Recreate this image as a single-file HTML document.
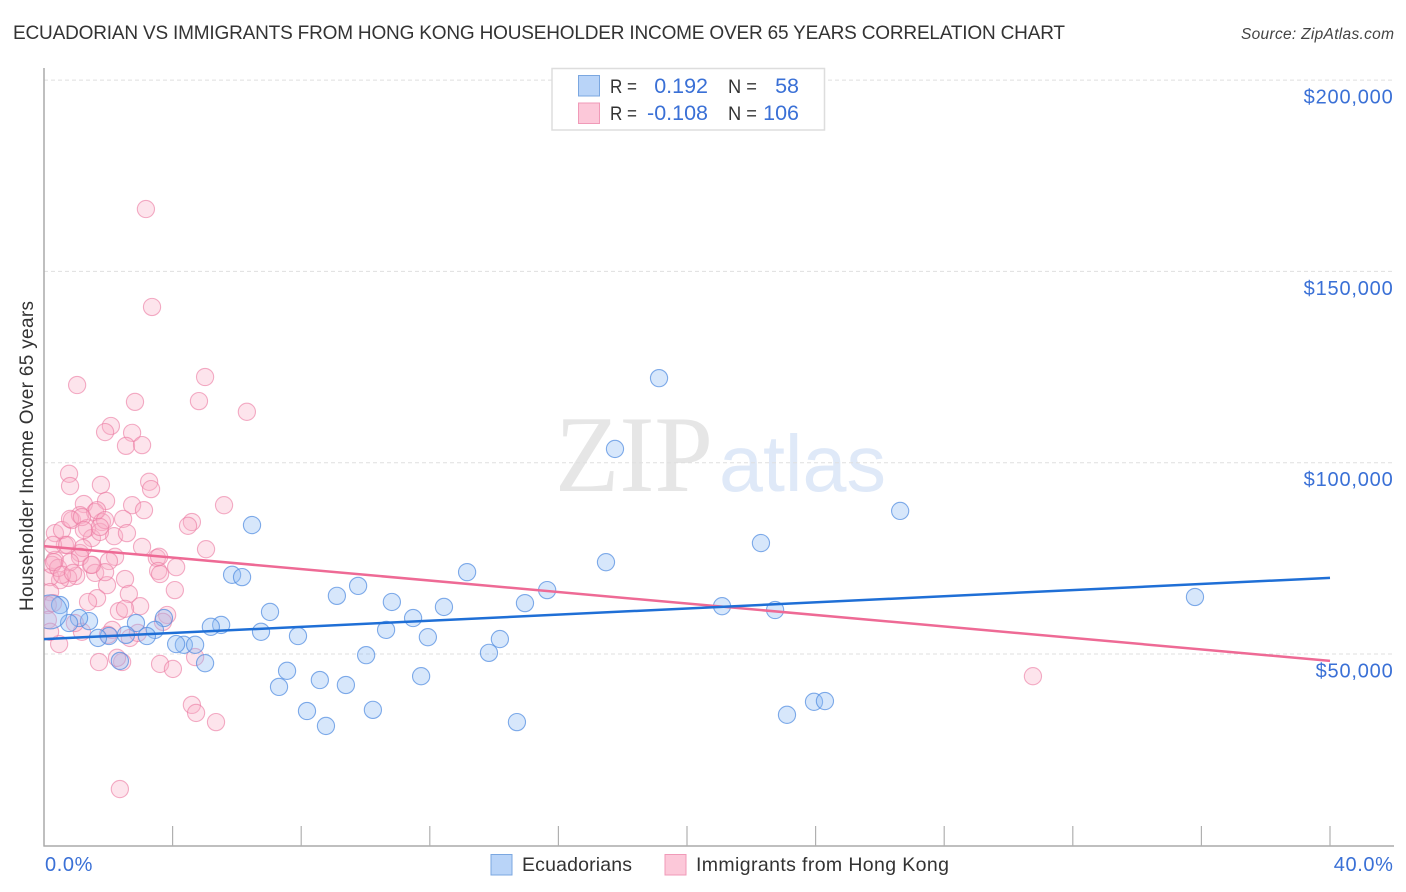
<!DOCTYPE html>
<html lang="en">
<head>
<meta charset="utf-8">
<title>Ecuadorian vs Immigrants from Hong Kong Householder Income Correlation Chart</title>
<style>
html,body{margin:0;padding:0;background:#fff;}
svg{display:block;font-family:"Liberation Sans",sans-serif;}
</style>
</head>
<body>
<svg id="chart" xmlns="http://www.w3.org/2000/svg" width="1406" height="892" viewBox="0 0 1406 892">
  <defs><clipPath id="plot-clip"><rect x="44" y="60" width="1350" height="786"/></clipPath></defs>
  <rect x="0" y="0" width="1406" height="892" fill="#ffffff"/>
  <text x="13" y="39" font-size="19" fill="#333333" textLength="1052" lengthAdjust="spacing">ECUADORIAN VS IMMIGRANTS FROM HONG KONG HOUSEHOLDER INCOME OVER 65 YEARS CORRELATION CHART</text>
  <text x="1241" y="39" font-size="15.5" font-style="italic" fill="#444444" textLength="153" lengthAdjust="spacing">Source: ZipAtlas.com</text>
  <g>
    <text x="555" y="491" font-family="'Liberation Serif',serif" font-size="109" fill="#e6e6e6" textLength="158" lengthAdjust="spacingAndGlyphs">ZIP</text>
    <text x="719" y="491" font-size="80" fill="#dfe9f8" textLength="167" lengthAdjust="spacingAndGlyphs">atlas</text>
  </g>
  <g id="grid"></g>
  <g id="axes"></g>
  <g id="pink-points" clip-path="url(#plot-clip)"></g>
  <g id="blue-points" clip-path="url(#plot-clip)"></g>
  <g id="trends"></g>
  <text transform="translate(33,456) rotate(-90)" text-anchor="middle" font-size="19" fill="#333333" textLength="310" lengthAdjust="spacing">Householder Income Over 65 years</text>
  <g>
    <rect x="552" y="68.500" width="272.500" height="61.500" fill="#ffffff" stroke="#dddddd" stroke-width="1.500"/>
    <rect x="578.500" y="75.500" width="21" height="20.500" fill="#b9d4f8" stroke="#7ba7e0" stroke-width="1"/>
    <rect x="578.500" y="103" width="21" height="20.500" fill="#fcc8d9" stroke="#f09ab8" stroke-width="1"/>
    <text x="610" y="93" font-size="19" fill="#333333" textLength="27" lengthAdjust="spacingAndGlyphs">R =</text>
    <text x="708" y="93" font-size="21.500" fill="#3a70d6" text-anchor="end">0.192</text>
    <text x="728" y="93" font-size="19" fill="#333333" textLength="29" lengthAdjust="spacingAndGlyphs">N =</text>
    <text x="799" y="93" font-size="21.500" fill="#3a70d6" text-anchor="end">58</text>
    <text x="610" y="120" font-size="19" fill="#333333" textLength="27" lengthAdjust="spacingAndGlyphs">R =</text>
    <text x="708" y="120" font-size="21.500" fill="#3a70d6" text-anchor="end">-0.108</text>
    <text x="728" y="120" font-size="19" fill="#333333" textLength="29" lengthAdjust="spacingAndGlyphs">N =</text>
    <text x="799" y="120" font-size="21.500" fill="#3a70d6" text-anchor="end">106</text>
  </g>
  <g>
    <rect x="491" y="854.500" width="21" height="20.500" fill="#b9d4f8" stroke="#7ba7e0" stroke-width="1"/>
    <text x="522" y="871" font-size="19.500" fill="#333333" textLength="110" lengthAdjust="spacing">Ecuadorians</text>
    <rect x="665" y="854.500" width="21" height="20.500" fill="#fcc8d9" stroke="#f09ab8" stroke-width="1"/>
    <text x="696" y="871" font-size="19.500" fill="#333333" textLength="253" lengthAdjust="spacing">Immigrants from Hong Kong</text>
  </g>
</svg>
<script>
const yTickValues = [200, 150, 100, 50];
const yTickLabels = ["$200,000", "$150,000", "$100,000", "$50,000"];
const xTickValues = [4, 8, 12, 16, 20, 24, 28, 32, 36, 40];
const xEndLabels = ["0.0%", "40.0%"];

const trendX = [0, 40];
const blueTrend = [53.9, 69.9];
const pinkTrend = [78.2, 48.2];

const blueX = [19.13,17.76,26.63,6.47,22.30,17.48,13.16,5.85,6.16,9.77,15.65,9.11,35.80,10.82,14.96,12.44,21.09,22.74,7.03,11.48,2.86,5.51,5.19,10.64,6.75,7.90,11.94,14.18,4.35,4.70,4.11,10.02,13.84,5.01,7.56,11.73,8.58,9.39,7.31,23.95,24.29,8.18,10.23,23.11,14.71,8.77,3.73,3.45,3.20,2.55,2.02,1.68,2.36,1.40,1.09,0.78,0.50,0.19];
const blueY = [122.1,103.6,87.4,83.7,79.0,74.0,71.4,70.7,70.1,67.8,66.7,65.2,64.9,63.6,63.3,62.3,62.5,61.5,61.0,59.4,58.1,57.6,57.1,56.3,55.8,54.7,54.4,53.9,52.4,52.4,52.6,49.7,50.3,47.6,45.6,44.2,43.2,41.9,41.4,37.5,37.7,35.1,35.4,34.1,32.2,31.2,59.4,56.3,54.7,55.0,54.7,54.2,48.2,58.6,59.4,58.1,62.8,61.0];

const pinkX = [3.17,3.36,1.03,2.83,5.01,4.82,6.31,2.08,1.90,2.74,2.55,3.05,0.78,0.81,1.77,3.27,3.33,1.93,1.24,2.74,3.11,5.60,4.60,4.48,2.46,2.18,2.58,5.04,3.05,3.51,3.58,4.11,3.55,3.61,4.07,2.21,2.02,2.52,1.96,2.64,2.99,1.65,1.37,2.33,2.52,3.83,3.70,4.70,3.61,4.01,1.71,2.43,2.27,2.12,1.99,2.67,2.92,1.18,0.96,0.47,4.60,4.73,5.35,2.36,30.76,1.46,1.59,1.90,1.00,0.75,0.50,0.19,0.34,0.25,1.12,0.65,0.34,0.56,0.87,1.12,1.59,1.80,1.34,1.49,1.74,0.28,0.81,1.65,1.18,0.44,0.31,1.21,0.72,1.12,1.49,1.24,1.90,0.19,0.12,0.12,0.19,0.28,0.81,0.56,1.74,0.90];
const pinkY = [166.3,140.7,120.3,115.9,122.4,116.1,113.3,109.6,108.0,107.8,104.4,104.6,97.1,93.9,94.2,95.0,93.1,90.0,89.2,88.9,87.6,88.9,84.5,83.5,85.3,80.8,81.6,77.4,78.0,75.1,75.4,72.7,71.7,70.9,66.7,75.4,74.3,69.6,68.0,65.7,62.5,64.6,63.6,61.2,61.8,60.2,58.4,49.2,47.4,46.1,47.9,47.9,49.0,56.3,55.0,54.2,55.5,55.8,58.1,52.6,36.7,34.6,32.2,14.7,44.2,73.3,71.2,71.4,70.4,69.9,69.3,70.1,74.6,73.3,76.4,78.5,81.6,82.4,85.0,86.3,87.1,84.5,82.9,80.3,81.9,78.5,85.3,87.6,85.8,72.5,74.0,77.7,78.5,75.4,73.3,82.4,85.0,66.2,62.8,58.9,55.8,63.3,74.0,70.7,83.2,71.2];

const NS = "http://www.w3.org/2000/svg";
function xScale(v) { return 44 + (v / 40) * 1286; }
function yScale(v) { return 654 - ((v - 50) / 50) * 191.3; }

function make(tag, attrs, parent) {
  const el = document.createElementNS(NS, tag);
  Object.keys(attrs).forEach(function (k) { el.setAttribute(k, attrs[k]); });
  parent.appendChild(el);
  return el;
}

const gridLayer = document.getElementById("grid");
const axesLayer = document.getElementById("axes");
const pinkLayer = document.getElementById("pink-points");
const blueLayer = document.getElementById("blue-points");
const trendLayer = document.getElementById("trends");

yTickValues.forEach(function (v, i) {
  const y = yScale(v);
  const line = make("line", {x1: 44, x2: 1394, y1: y, y2: y, stroke: "#dfdfdf", "stroke-width": 1, "stroke-dasharray": "4 3"}, gridLayer);
  
  
  const label = make("text", {x: 1393.5, y: y + 23.5, "text-anchor": "end", "font-size": 20, "letter-spacing": 0.8, fill: "#3a70d6"}, axesLayer);
  label.textContent = yTickLabels[i];
  
  
});

const yAxis = make("line", {x1: 44, x2: 44, y1: 68, y2: 846.5, stroke: "#aaaaaa", "stroke-width": 1.5}, axesLayer);


const xAxis = make("line", {x1: 43.5, x2: 1394, y1: 846, y2: 846, stroke: "#aaaaaa", "stroke-width": 1.5}, axesLayer);



xTickValues.forEach(function (v) {
  const x = xScale(v);
  const tick = make("line", {x1: x, x2: x, y1: 826, y2: 846, stroke: "#b0b0b0", "stroke-width": 1.2}, axesLayer);
  
  
});

const xLabelStart = make("text", {x: 45, y: 871, "font-size": 20, "letter-spacing": 0.6, fill: "#3a70d6"}, axesLayer);
xLabelStart.textContent = xEndLabels[0];


const xLabelEnd = make("text", {x: 1393.5, y: 871, "font-size": 20, "letter-spacing": 0.6, "text-anchor": "end", fill: "#3a70d6"}, axesLayer);
xLabelEnd.textContent = xEndLabels[1];



pinkX.forEach(function (v, i) {
  const dot = make("circle", {cx: xScale(v), cy: yScale(pinkY[i]), r: 8.6, fill: "rgba(250,175,200,0.34)", stroke: "rgba(235,120,160,0.6)", "stroke-width": 1.1}, pinkLayer);
  
  
});

blueX.forEach(function (v, i) {
  const isLargest = i === blueX.length - 1;
  const dot = make("circle", {cx: xScale(v), cy: yScale(blueY[i]), r: isLargest ? 17 : 8.6, fill: "rgba(145,188,245,0.36)", stroke: "rgba(80,140,225,0.72)", "stroke-width": 1.1}, blueLayer);
  
  
});

const pinkLine = make("line", {x1: xScale(trendX[0]), x2: xScale(trendX[1]), y1: yScale(pinkTrend[0]), y2: yScale(pinkTrend[1]), stroke: "#ee6a95", "stroke-width": 2.5}, trendLayer);


const blueLine = make("line", {x1: xScale(trendX[0]), x2: xScale(trendX[1]), y1: yScale(blueTrend[0]), y2: yScale(blueTrend[1]), stroke: "#1f6fd6", "stroke-width": 2.5}, trendLayer);


</script>
</body>
</html>
